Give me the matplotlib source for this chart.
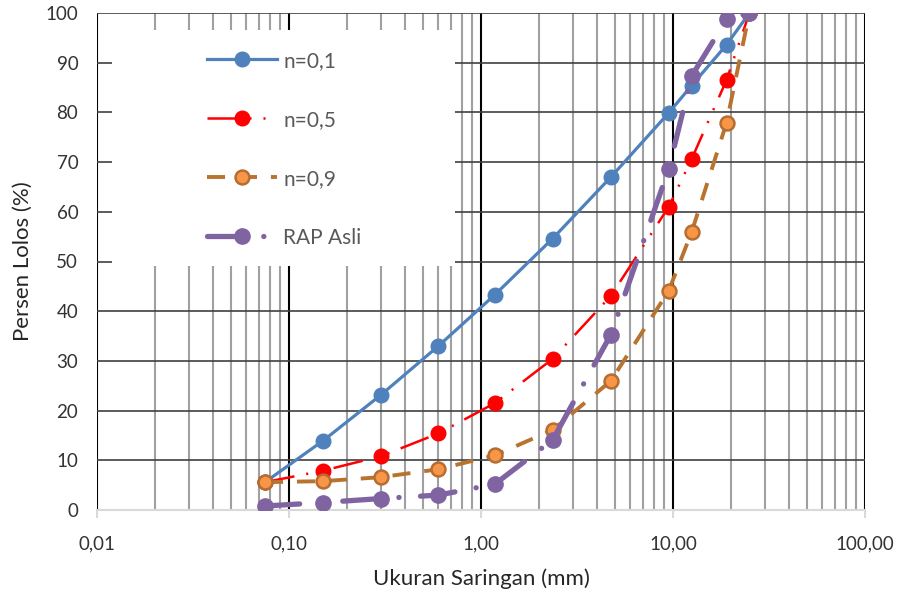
"""Grafik gradasi agregat: n=0,1 / 0,5 / 0,9 dan RAP asli."""

import matplotlib
matplotlib.use("Agg")
import matplotlib.pyplot as plt
from matplotlib.patches import Rectangle
from matplotlib.ticker import FuncFormatter, LogLocator, MultipleLocator

# ukuran saringan (mm)
sieve = [0.075, 0.15, 0.3, 0.6, 1.18, 2.36, 4.75, 9.5, 12.5, 19, 25]

# persen lolos
n01 = [5.6, 13.9, 23.1, 33.0, 43.3, 54.6, 67.0, 79.9, 85.4, 93.6, 100]
n05 = [5.6, 7.9, 10.8, 15.4, 21.5, 30.4, 43.1, 61.0, 70.6, 86.5, 100]
n09 = [5.6, 5.8, 6.6, 8.2, 11.0, 16.1, 26.0, 44.1, 55.9, 77.9, 100]
rap = [0.8, 1.5, 2.3, 3.0, 5.2, 14.1, 35.3, 68.6, 87.3, 98.7, 100]

labels = ["n=0,1", "n=0,5", "n=0,9", "RAP Asli"]

plt.rcParams["font.family"] = ["Lato", "DejaVu Sans"]
plt.rcParams["lines.scale_dashes"] = False

fig = plt.figure(figsize=(8.97, 5.91), dpi=100)
ax = fig.add_axes([97 / 897, 81 / 591, 768 / 897, 497 / 591])

ax.plot(sieve, n01, color="#4f81bd", lw=2.3, marker="o", ms=10.5,
        mfc="#4f81bd", mec="#4f81bd", label=labels[0], zorder=3)
ax.plot(sieve, n05, color="#ff0000", lw=1.8, marker="o", ms=10.5,
        mfc="#ff0000", mec="#ff0000", label=labels[1], zorder=4,
        linestyle=(0, (21.6, 8.6, 1.5, 8.6, 1.5, 8.6)))
ax.plot(sieve, n09, color="#b8732f", lw=2.8, marker="o", ms=10.0,
        mfc="#f79646", mec="#b66d31", mew=1.8, label=labels[2], zorder=5,
        linestyle=(0, (13.0, 10.0)))
ax.plot(sieve, rap, color="#8064a2", lw=3.8, marker="o", ms=11.0,
        mfc="#8064a2", mec="#8064a2", label=labels[3], zorder=6,
        linestyle=(0, (25.0, 15.5, 0.1, 15.5)), dash_capstyle="round")

ax.set_xscale("log")
ax.set_xlim(0.01, 100)
ax.set_ylim(0, 100)
ax.xaxis.set_minor_locator(LogLocator(base=10, subs=range(2, 10)))
ax.yaxis.set_major_locator(MultipleLocator(10))
ax.xaxis.set_major_formatter(FuncFormatter(lambda v, p: f"{v:.2f}".replace(".", ",")))

ax.set_axisbelow(True)
ax.xaxis.grid(True, which="major", color="#000000", lw=1.5)
ax.xaxis.grid(True, which="minor", color="#a0a0a0", lw=1.5)
ax.yaxis.grid(True, which="major", color="#404040", lw=1.2)

for side in ["top", "right", "left"]:
    ax.spines[side].set_visible(False)
ax.spines["bottom"].set_color("#d9d9d9")
ax.spines["bottom"].set_linewidth(1.5)

ax.tick_params(axis="x", which="major", length=6, width=1.5, color="#d9d9d9",
               labelsize=13.5, labelcolor="#333333", pad=12)
ax.tick_params(axis="x", which="minor", length=0)
ax.tick_params(axis="y", length=0, labelsize=13.5, labelcolor="#333333", pad=13.5)

ax.set_xlabel("Ukuran Saringan (mm)", fontsize=16, color="#262626", labelpad=12)
ax.set_ylabel("Persen Lolos (%)", fontsize=16, color="#262626", labelpad=9)

# latar putih legenda menutupi garis grid
ax.add_patch(Rectangle((0.0195, 0.491), 0.4465, 0.475, transform=ax.transAxes,
                       facecolor="white", edgecolor="none", zorder=1))

leg = ax.legend(loc="upper left", bbox_to_anchor=(0.143, 0.924), frameon=False,
                fontsize=15, labelcolor="#595959", numpoints=1,
                handlelength=3.37, handletextpad=0.3, labelspacing=1.87,
                borderpad=0, borderaxespad=0)
leg.set_zorder(7)

fig.savefig("out.png", dpi=100)
